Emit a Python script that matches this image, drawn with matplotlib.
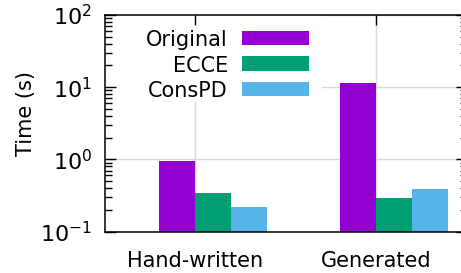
import numpy as np
import matplotlib
matplotlib.use("Agg")
import matplotlib.pyplot as plt
from matplotlib.patches import Rectangle

categories = ["Hand-written", "Generated"]
series_names = ["Original", "ECCE", "ConsPD"]
original = [0.94, 11.6]
ecce = [0.345, 0.295]
conspd = [0.222, 0.392]
colors = ["#9400D3", "#009E73", "#56B4E9"]

W, H = 461, 273
plt.rcParams['font.family'] = ['DejaVu Sans']
plt.rcParams['axes.unicode_minus'] = False
fig = plt.figure(figsize=(W / 100, H / 100), dpi=100)

def fx(px):
    return px / W

def fy(py):
    return 1 - py / H

left, right, top, bottom = 104.5, 466.5, 15, 231.5
ax = fig.add_axes([fx(left), fy(bottom), fx(right - left), (bottom - top) / H])

x = np.arange(len(categories))
bw = 0.2
for i, (vals, c) in enumerate(zip([original, ecce, conspd], colors)):
    ax.bar(x - 0.1 + i * bw, vals, width=bw, color=c, zorder=1, linewidth=0)

ax.set_yscale('log')
ax.set_ylim(0.1, 100)
ax.set_xlim(-0.5, 1.5)
ax.set_xticks(x)
ax.set_xticklabels(categories, fontsize=15)
ax.set_ylabel("Time (s)", fontsize=15)
ax.yaxis.set_label_coords((36 - left) / (right - left), (bottom - 114) / (bottom - top))

# grid lines
for v in [0.1, 1, 10, 100]:
    ax.axhline(v, color='#d8d8d8', lw=1.0, zorder=0.3)
for v in x:
    ax.axvline(v, color='#d8d8d8', lw=1.0, zorder=0.3)

ax.tick_params(axis='y', which='both', direction='in', left=True, right=True, labelsize=16, width=1.0, pad=9)
ax.tick_params(axis='y', which='major', length=8)
ax.tick_params(axis='y', which='minor', length=5)
ax.tick_params(axis='x', which='both', direction='in', top=True, bottom=False, length=7, width=1.0, labelsize=15, pad=14)
for s in ax.spines.values():
    s.set_linewidth(1.1)

# key (legend) with opaque background
bg = Rectangle((fx(left), fy(101.7)), fx(322 - left), (101.7 - top) / H,
               transform=fig.transFigure, facecolor='white', edgecolor='none', zorder=0.8)
ax.add_artist(bg)
bg.set_clip_on(False)
row_centers = [38, 63.5, 88.7]
for name, c, yc in zip(series_names, colors, row_centers):
    ax.text(fx(228), fy(yc + 8), name, transform=fig.transFigure, ha='right', va='baseline', fontsize=15, zorder=3)
    r = Rectangle((fx(242), fy(yc + 7)), fx(309 - 242), 14 / H, transform=fig.transFigure,
                  facecolor=c, edgecolor='none', zorder=3)
    r.set_clip_on(False)
    ax.add_artist(r)

fig.savefig("out.png", dpi=100)
